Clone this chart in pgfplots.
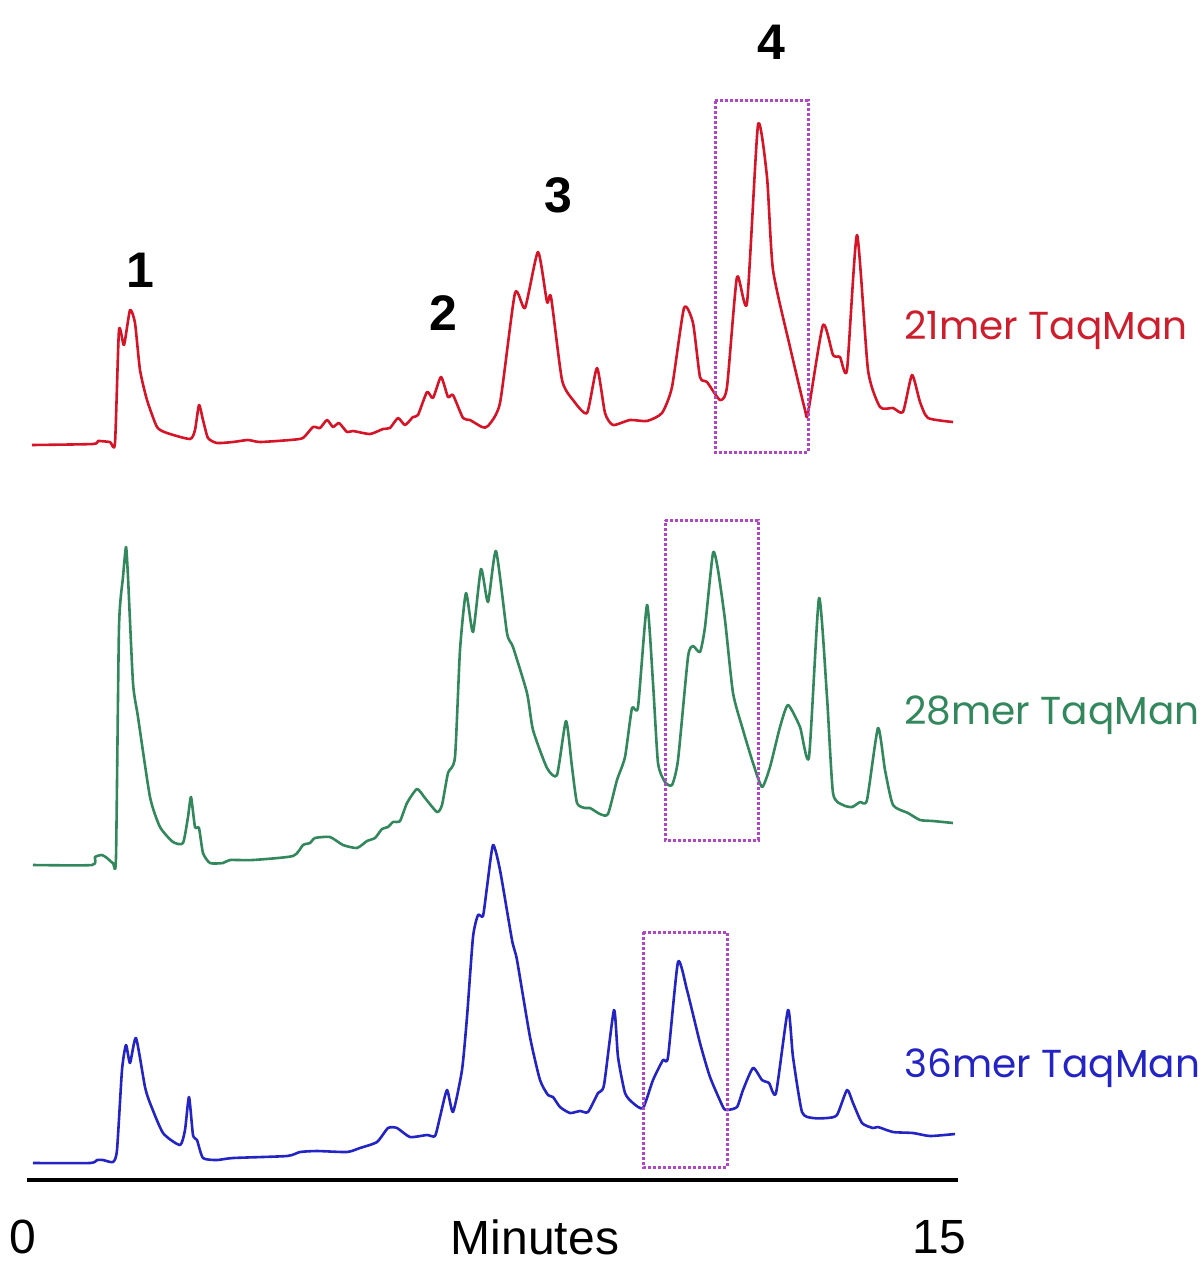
\documentclass[border=0pt]{standalone}
\usepackage{pgfplots}
\pgfplotsset{compat=1.18}
\usepackage{pgfplotstable}
\usepackage{fontspec}
\setmainfont{Liberation Sans}
\newfontfamily\geo{Poppins}

\definecolor{tracered}{RGB}{214,20,40}
\definecolor{labelred}{RGB}{205,30,45}
\definecolor{tracegreen}{RGB}{50,136,92}
\definecolor{traceblue}{RGB}{36,36,196}
\definecolor{boxpurple}{RGB}{176,70,196}

\tikzset{
    trace/.style={line width=1.3pt, line join=round, smooth, tension=0.35},
    peak/.style={font=\fontsize{25}{30}\selectfont\bfseries, inner sep=0pt},
    series/.style={anchor=west, inner sep=0pt, font=\geo\fontsize{19.5}{23}\selectfont},
    box/.style={boxpurple, line width=1.5pt, dash pattern=on 1.5pt off 1pt},
}

% traces, x = position (px), y = height (px, downwards)
\pgfplotstableread{
x y
32 445
93 444
98 441
110 442
115 443
119 330
124 345
130 310
135 323
140 370
147 400
157 427
167 433
190 439
195 430
199 405
203 420
208 438
217 443
233 442
248 440
260 442
290 440
303 438
313 427
320 428
327 420
333 427
339 423
347 432
353 431
370 434
383 429
390 428
398 418
405 425
413 417
418 415
427 392
433 398
441 377
448 397
453 395
463 418
470 420
482 427
488 426
500 403
515 293
525 308
538 252
547 302
551 297
562 380
573 400
587 413
597 368
605 413
613 425
630 420
647 421
662 413
672 387
684 308
693 323
700 377
707 382
720 400
727 387
737 277
747 303
758 125
767 177
773 270
790 347
805 410
808 413
823 325
833 355
840 357
847 370
857 235
868 370
880 407
893 408
903 412
912 375
920 402
928 418
953 422
}\redtrace

\pgfplotstableread{
x y
33 865
92 865
95 857
102 855
107 858
113 863
116 857
119 627
123 577
126 547
128 577
133 683
138 717
150 797
160 827
173 842
183 843
188 817
191 797
195 827
199 828
203 853
210 863
223 863
230 860
253 860
293 856
303 845
310 843
315 838
330 837
343 845
357 848
367 841
375 838
382 829
388 827
393 822
400 821
407 803
417 789
425 798
437 812
442 805
448 773
455 757
460 650
466 593
473 632
481 569
488 602
496 551
507 633
513 647
527 693
533 730
547 768
557 775
566 721
572 767
577 803
585 808
590 808
600 814
608 814
617 780
625 757
632 708
638 707
647 605
653 683
658 763
665 782
672 785
678 760
688 657
693 646
700 652
705 627
713 553
718 570
725 620
733 693
743 730
753 763
762 787
770 767
780 727
788 705
800 727
809 757
819 598
827 697
833 793
843 805
852 807
860 802
867 800
878 728
885 770
893 805
908 813
920 820
933 821
953 823
}\greentrace

\pgfplotstableread{
x y
33 1163
90 1163
97 1160
103 1160
113 1162
117 1150
122 1070
126 1045
130 1063
136 1038
145 1087
150 1103
163 1133
180 1145
185 1130
189 1097
193 1135
197 1140
203 1158
217 1160
233 1158
287 1156
300 1152
317 1151
347 1152
360 1148
377 1142
388 1128
397 1128
410 1137
427 1135
435 1136
440 1117
447 1090
453 1112
462 1070
467 1017
473 937
478 915
483 916
487 887
493 845
500 870
512 940
517 960
530 1037
540 1080
548 1095
553 1097
560 1107
570 1113
580 1111
588 1112
598 1093
604 1085
614 1010
618 1057
625 1093
633 1103
643 1108
653 1080
663 1060
668 1057
678 962
687 990
700 1043
710 1077
723 1107
727 1110
737 1107
743 1090
753 1068
762 1080
769 1083
776 1093
788 1010
793 1057
802 1112
813 1118
827 1118
837 1115
847 1090
853 1103
862 1123
873 1128
878 1127
893 1132
913 1133
930 1136
955 1134
}\bluetrace

\begin{document}
\begin{tikzpicture}
\begin{axis}[
    scale only axis,
    width=601pt, height=631.5pt,
    xmin=0, xmax=1202,
    ymin=0, ymax=1263,
    y dir=reverse,
    hide axis,
    clip=false,
]
\path (axis cs:0,0) rectangle (axis cs:1202,1263);

\addplot[trace, tracered] table {\redtrace};
\addplot[trace, tracegreen] table {\greentrace};
\addplot[trace, traceblue] table {\bluetrace};

% dotted boxes around peak 4
\addplot[box] coordinates {(715,101) (808,101) (808,452) (715,452) (715,101)};
\addplot[box] coordinates {(665,520) (758,520) (758,840) (665,840) (665,520)};
\addplot[box] coordinates {(643,932) (727,932) (727,1167) (643,1167) (643,932)};

% time axis
\addplot[black, line width=2pt] coordinates {(27,1180) (958,1180)};

\node[peak] at (axis cs:140,270) {1};
\node[peak] at (axis cs:443,313) {2};
\node[peak] at (axis cs:558,195) {3};
\node[peak] at (axis cs:771,42) {4};

\node[series, text=labelred] at (axis cs:904,330) {21mer TaqMan};
\node[series, text=tracegreen] at (axis cs:904,715) {28mer TaqMan};
\node[series, text=traceblue] at (axis cs:904,1068) {36mer TaqMan};

\node[inner sep=0pt, font=\fontsize{24}{28}\selectfont] at (axis cs:23,1237) {0};
\node[inner sep=0pt, font=\fontsize{24}{28}\selectfont] at (axis cs:535,1237) {Minutes};
\node[inner sep=0pt, font=\fontsize{24}{28}\selectfont] at (axis cs:939,1237) {15};
\end{axis}
\end{tikzpicture}
\end{document}
